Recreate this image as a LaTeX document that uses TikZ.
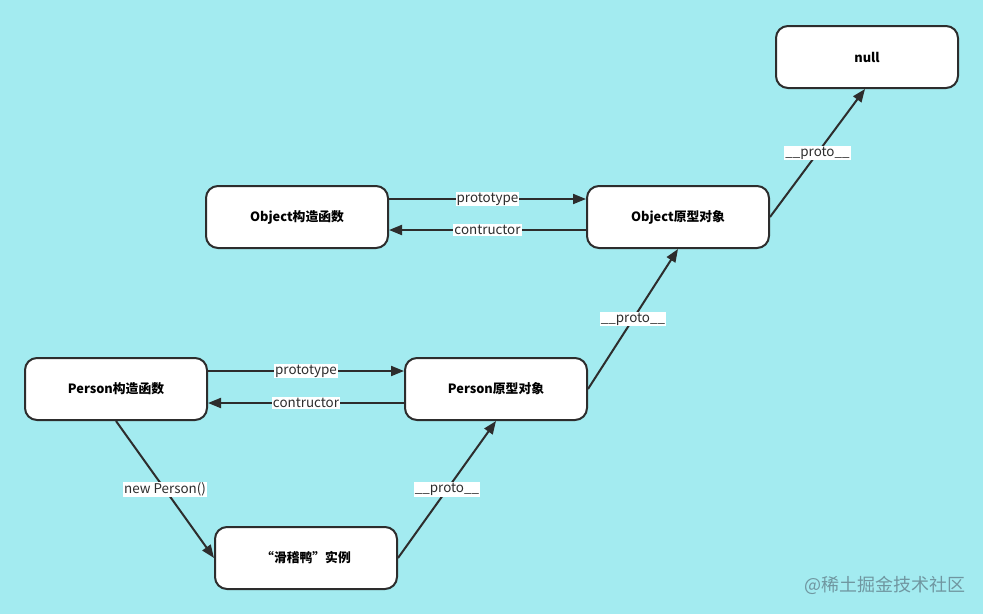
\documentclass[tikz,border=0pt]{standalone}
\usepackage{fontspec}
\usepackage{xcolor}
\usetikzlibrary{arrows.meta, positioning, calc}
\setmainfont{Noto Sans CJK SC}
\definecolor{canvas}{RGB}{163, 235, 240}
\definecolor{dark}{RGB}{45, 45, 45}
\definecolor{mark}{RGB}{112, 150, 160}
\tikzset{
    box/.style={rectangle, rounded corners=12pt, draw=dark, line width=2pt, fill=white, align=center, font=\fontsize{12.8}{15}\selectfont\bfseries, minimum width=182pt, minimum height=62pt},
    arr/.style={-{Triangle[length=13pt, width=10pt]}, line width=2pt, dark},
    lbl/.style={fill=white, inner sep=1pt, font=\fontsize{13.4}{15}\selectfont, text=dark}
}
\begin{document}
\begin{tikzpicture}[x=1pt, y=-1pt]
        \fill[canvas] (0,0) rectangle (983,614);
        \useasboundingbox (0,0) rectangle (983,614);
        \node[box] (null) at (867,57) {null};
        \node[box] (objfn) at (297,217) {Object构造函数};
        \node[box] (objproto) at (678,217) {Object原型对象};
        \node[box] (perfn) at (116,389) {Person构造函数};
        \node[box] (perproto) at (496,389) {Person原型对象};
        \node[box] (inst) at (306,558) {“滑稽鸭”实例};
        \draw[arr] ([yshift=18pt]objfn.east) -- node[lbl] {prototype} ([yshift=18pt]objproto.west);
        \draw[arr] ([yshift=-13pt]objproto.west) -- node[lbl] {contructor} ([yshift=-13pt]objfn.east);
        \draw[arr] ([yshift=18pt]perfn.east) -- node[lbl] {prototype} ([yshift=18pt]perproto.west);
        \draw[arr] ([yshift=-14pt]perproto.west) -- node[lbl] {contructor} ([yshift=-14pt]perfn.east);
        \draw[arr] (objproto.east) -- node[lbl] {\_\_proto\_\_} ([xshift=-2pt]null.south);
        \draw[arr] (perproto.east) -- node[lbl] {\_\_proto\_\_} (objproto.south);
        \draw[arr] (inst.east) -- node[lbl] {\_\_proto\_\_} (perproto.south);
        \draw[arr] (perfn.south) -- node[lbl] {new Person()} (inst.west);
        \node[font=\fontsize{18}{20}\selectfont, text=mark] (wm) at (885,585) {@稀土掘金技术社区};
    \end{tikzpicture}
\end{document}
